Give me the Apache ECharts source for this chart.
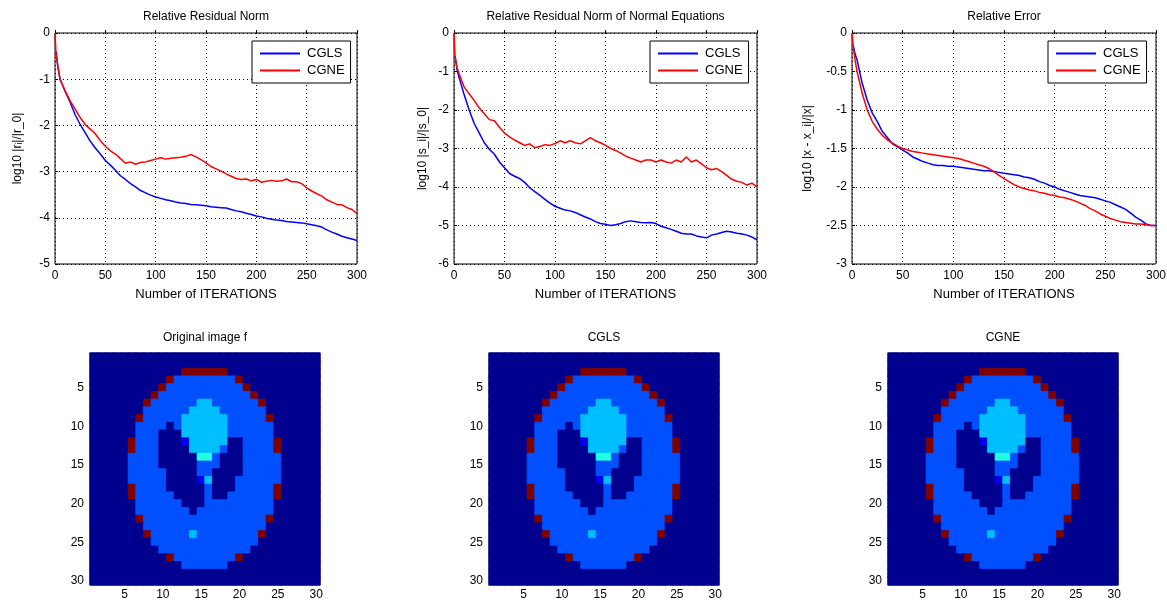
<!DOCTYPE html>
<html>
<head>
<meta charset="utf-8">
<script src="https://cdn.jsdelivr.net/npm/echarts@6/dist/echarts.min.js"></script>
<style>
  html, body { margin: 0; padding: 0; background: #fff; }
  #main { width: 1167px; height: 600px; }
</style>
</head>
<body>
<div id="main"></div>
<script>
const iters = [0, 1, 3, 5, 10, 15, 20, 25, 30, 35, 40, 45, 50, 55, 60, 65, 70, 75, 80, 85, 90, 95, 100,
  105, 110, 115, 120, 125, 130, 135, 140, 145, 150, 155, 160, 165, 170, 175, 180, 185, 190, 195, 200,
  205, 210, 215, 220, 225, 230, 235, 240, 245, 250, 255, 260, 265, 270, 275, 280, 285, 290, 295, 300]

// log10 |r_i|/|r_0|
const resCGLS = [null, -0.4, -0.75, -1.0, -1.26, -1.5, -1.77, -1.98, -2.16, -2.34, -2.49, -2.62, -2.76, -2.86, -2.97, -3.09, -3.17, -3.26, -3.33, -3.41, -3.46, -3.51, -3.55,
  -3.58, -3.61, -3.63, -3.66, -3.68, -3.69, -3.71, -3.72, -3.73, -3.74, -3.76, -3.77, -3.78, -3.79, -3.82, -3.85, -3.87, -3.9, -3.93, -3.96,
  -3.98, -4.01, -4.03, -4.05, -4.06, -4.08, -4.09, -4.1, -4.11, -4.13, -4.15, -4.17, -4.2, -4.26, -4.31, -4.35, -4.4, -4.43, -4.46, -4.49]
const resCGNE = [0, -0.45, -0.75, -1.0, -1.25, -1.47, -1.65, -1.83, -1.98, -2.08, -2.18, -2.33, -2.45, -2.55, -2.62, -2.72, -2.82, -2.79, -2.84, -2.8, -2.79, -2.76, -2.73,
  -2.7, -2.73, -2.71, -2.7, -2.69, -2.67, -2.63, -2.68, -2.74, -2.81, -2.89, -2.94, -2.99, -3.05, -3.1, -3.15, -3.17, -3.16, -3.2, -3.17,
  -3.23, -3.21, -3.19, -3.21, -3.2, -3.16, -3.22, -3.22, -3.26, -3.35, -3.42, -3.48, -3.53, -3.61, -3.66, -3.71, -3.72, -3.78, -3.82, -3.91]

// log10 |s_i|/|s_0|
const normCGLS = [null, -0.6, -0.95, -1.15, -1.6, -2.0, -2.35, -2.6, -2.85, -3.02, -3.15, -3.35, -3.5, -3.65, -3.72, -3.78, -3.88, -4.02, -4.12, -4.22, -4.32, -4.42, -4.5,
  -4.55, -4.6, -4.62, -4.66, -4.72, -4.78, -4.83, -4.9, -4.95, -4.97, -5.0, -4.98, -4.95, -4.9, -4.88, -4.9, -4.92, -4.93, -4.92, -4.95,
  -5.02, -5.06, -5.1, -5.15, -5.2, -5.22, -5.22, -5.27, -5.3, -5.32, -5.25, -5.22, -5.18, -5.15, -5.17, -5.2, -5.22, -5.25, -5.3, -5.37]
const normCGNE = [0, -0.6, -0.9, -1.05, -1.4, -1.58, -1.75, -1.95, -2.1, -2.25, -2.28, -2.45, -2.6, -2.7, -2.78, -2.85, -2.92, -2.88, -2.98, -2.95, -2.9, -2.92, -2.87,
  -2.8, -2.85, -2.8, -2.85, -2.88, -2.8, -2.72, -2.8, -2.85, -2.92, -3.0, -3.05, -3.12, -3.2, -3.25, -3.3, -3.35, -3.3, -3.3, -3.35,
  -3.3, -3.35, -3.38, -3.3, -3.35, -3.22, -3.35, -3.3, -3.4, -3.5, -3.55, -3.52, -3.6, -3.7, -3.8, -3.85, -3.88, -3.95, -3.9, -4.0]

// log10 |x - x_i|/|x|
const errCGLS = [null, -0.15, -0.27, -0.35, -0.65, -0.87, -1.04, -1.15, -1.28, -1.36, -1.44, -1.48, -1.52, -1.56, -1.61, -1.64, -1.67, -1.69, -1.71, -1.72, -1.72, -1.73, -1.73,
  -1.74, -1.75, -1.76, -1.77, -1.78, -1.79, -1.79, -1.8, -1.81, -1.82, -1.83, -1.84, -1.85, -1.87, -1.88, -1.9, -1.93, -1.95, -1.98, -2.0,
  -2.03, -2.05, -2.07, -2.09, -2.11, -2.12, -2.13, -2.14, -2.16, -2.18, -2.2, -2.23, -2.26, -2.29, -2.34, -2.39, -2.43, -2.48, -2.5, -2.5]
const errCGNE = [0, -0.15, -0.35, -0.5, -0.78, -1.0, -1.15, -1.25, -1.33, -1.39, -1.43, -1.47, -1.5, -1.52, -1.54, -1.55, -1.56, -1.57, -1.58, -1.59, -1.6, -1.61, -1.62,
  -1.63, -1.65, -1.67, -1.69, -1.71, -1.73, -1.76, -1.8, -1.85, -1.89, -1.93, -1.97, -2.0, -2.02, -2.04, -2.05, -2.07, -2.08, -2.1, -2.11,
  -2.13, -2.14, -2.16, -2.18, -2.21, -2.24, -2.28, -2.31, -2.35, -2.38, -2.41, -2.43, -2.45, -2.46, -2.47, -2.48, -2.48, -2.49, -2.5, -2.5]

// 30x30 images, one char per pixel, row 1 on top; codes index into pixelLevels
const pixelCodes = ['0', '1', '2', '3', '4', '9']
const pixelLevels = [0, 0.1, 0.2, 0.3, 0.4, 1]
const imgOriginal = [
  '000000000000000000000000000000',
  '000000000000000000000000000000',
  '000000000000999999000000000000',
  '000000000092222222290000000000',
  '000000000922222222229000000000',
  '000000009222222222222900000000',
  '000000092222223322222290000000',
  '000000022222233332222220000000',
  '000000922222333333222229000000',
  '000000222202333333222222000000',
  '000000222000333333222222000000',
  '000009222000133333002222900000',
  '000009222000033332002222900000',
  '000002222000004420002222200000',
  '000002222000002220002222200000',
  '000002222200002200002222200000',
  '000002222200001300022222200000',
  '000009222200000200022222900000',
  '000009222220000200222222900000',
  '000000222222000222222222000000',
  '000000222222202222222222000000',
  '000000922222222222222229000000',
  '000000022222222222222220000000',
  '000000092222232222222290000000',
  '000000002222222222222200000000',
  '000000000222222222222000000000',
  '000000000092222222290000000000',
  '000000000000222222000000000000',
  '000000000000000000000000000000',
  '000000000000000000000000000000'
]
// the reconstructions read the same as the original at this resolution
const imgCGLS = imgOriginal
const imgCGNE = imgOriginal

const pixelIndex = Array.from({ length: 30 }, (_, i) => String(i + 1))

const FONT = 'Arial, "Liberation Sans", Helvetica, sans-serif'
// jet colormap entries for each level
const jetColors = ['#00008F', '#0000EF', '#0050FF', '#00BFFF', '#20FFDF', '#800000']

const linePanels = [
  { title: 'Relative Residual Norm', yName: 'log10 |r\u1d62|/|r_0|', left: 55, width: 302, min: -5, step: 1, gap: 31, legendLeft: 252, cgls: resCGLS, cgne: resCGNE },
  { title: 'Relative Residual Norm of Normal Equations', yName: 'log10 |s_i|/|s_0|', left: 454, width: 303, min: -6, step: 1, gap: 25, legendLeft: 650, cgls: normCGLS, cgne: normCGNE },
  { title: 'Relative Error', yName: 'log10 |x - x_i|/|x|', left: 852, width: 304, min: -3, step: 0.5, gap: 38, legendLeft: 1048, cgls: errCGLS, cgne: errCGNE }
]
const imgPanels = [
  { title: 'Original image f', left: 90, img: imgOriginal },
  { title: 'CGLS', left: 489, img: imgCGLS },
  { title: 'CGNE', left: 888, img: imgCGNE }
]

const txt = { color: '#000', fontSize: 12, fontFamily: FONT }
const dotted = { show: true, lineStyle: { color: '#000', type: [1, 3], width: 1 } }

const grids = []
const xAxes = []
const yAxes = []
const titles = []
const legends = []
const series = []

linePanels.forEach((p, k) => {
  grids.push({ left: p.left, top: 33, width: p.width, height: 231, outerBoundsMode: 'none', show: true, borderColor: '#000', borderWidth: 1, backgroundColor: '#fff' })
  titles.push({ text: p.title, left: p.left + p.width / 2, top: 11, textAlign: 'center', padding: 0, textStyle: { ...txt, fontWeight: 'normal' } })
  xAxes.push({
    gridIndex: k, type: 'value', min: 0, max: 300, interval: 50,
    name: 'Number of ITERATIONS', nameLocation: 'middle', nameGap: 24, nameTextStyle: { ...txt, fontSize: 13 },
    axisLine: { show: false }, axisTick: { show: true, inside: true, length: 3, lineStyle: { color: '#000' } },
    axisLabel: { ...txt, margin: 6 }, splitLine: dotted
  })
  yAxes.push({
    gridIndex: k, type: 'value', min: p.min, max: 0, interval: p.step,
    name: p.yName, nameLocation: 'middle', nameGap: p.gap, nameTextStyle: { ...txt },
    axisLine: { show: false }, axisTick: { show: true, inside: true, length: 3, lineStyle: { color: '#000' } },
    axisLabel: { ...txt, margin: 5 }, splitLine: dotted
  })
  legends.push({
    left: p.legendLeft, top: 41, orient: 'vertical', selectedMode: false,
    data: [{ name: 'CGLS', icon: 'rect' }, { name: 'CGNE', icon: 'rect' }],
    itemWidth: 40, itemHeight: 2, itemGap: 4, padding: [6, 6, 6, 8],
    backgroundColor: '#fff', borderColor: '#000', borderWidth: 1, borderRadius: 0,
    textStyle: { ...txt, fontSize: 13, padding: [0, 0, 0, 2] }
  })
  series.push({
    name: 'CGLS', type: 'line', xAxisIndex: k, yAxisIndex: k, symbol: 'none',
    lineStyle: { color: '#0000FF', width: 1.5 }, itemStyle: { color: '#0000FF' },
    data: iters.map((it, i) => [it, p.cgls[i]])
  })
  series.push({
    name: 'CGNE', type: 'line', xAxisIndex: k, yAxisIndex: k, symbol: 'none',
    lineStyle: { color: '#FF0000', width: 1.5 }, itemStyle: { color: '#FF0000' },
    data: iters.map((it, i) => [it, p.cgne[i]])
  })
})

const every5 = (i) => (i + 1) % 5 === 0
imgPanels.forEach((p, j) => {
  const k = 3 + j
  grids.push({ left: p.left, top: 353, width: 230, height: 232, outerBoundsMode: 'none', show: true, borderColor: '#808080', borderWidth: 1 })
  titles.push({ text: p.title, left: p.left + 115, top: 332, textAlign: 'center', padding: 0, textStyle: { ...txt, fontWeight: 'normal' } })
  xAxes.push({
    gridIndex: k, type: 'category', data: pixelIndex, position: 'bottom',
    axisLine: { show: false }, axisTick: { show: true, inside: true, length: 3, interval: every5, alignWithLabel: true, lineStyle: { color: '#333' } },
    axisLabel: { ...txt, margin: 4, interval: every5 }, splitLine: { show: false }
  })
  yAxes.push({
    gridIndex: k, type: 'category', data: pixelIndex, inverse: true,
    axisLine: { show: false }, axisTick: { show: true, inside: true, length: 3, interval: every5, alignWithLabel: true, lineStyle: { color: '#333' } },
    axisLabel: { ...txt, margin: 6, interval: every5 }, splitLine: { show: false }
  })
  const data = []
  p.img.forEach((row, r) => {
    for (let c = 0; c < row.length; c++) {
      const lv = pixelCodes.indexOf(row[c])
      const col = jetColors[lv]
      // border in the cell's own colour hides the anti-aliasing seams
      data.push({ value: [c, r, pixelLevels[lv]], itemStyle: { color: col, borderColor: col, borderWidth: 0.8 } })
    }
  })
  series.push({
    name: p.title, type: 'heatmap', xAxisIndex: k, yAxisIndex: k, data,
    emphasis: { disabled: true }, progressive: 0
  })
})

const chart = echarts.init(document.getElementById('main'), null, { renderer: 'canvas' })
chart.setOption({
  animation: false,
  backgroundColor: '#fff',
  title: titles,
  legend: legends,
  grid: grids,
  xAxis: xAxes,
  yAxis: yAxes,
  series
})
</script>
</body>
</html>
